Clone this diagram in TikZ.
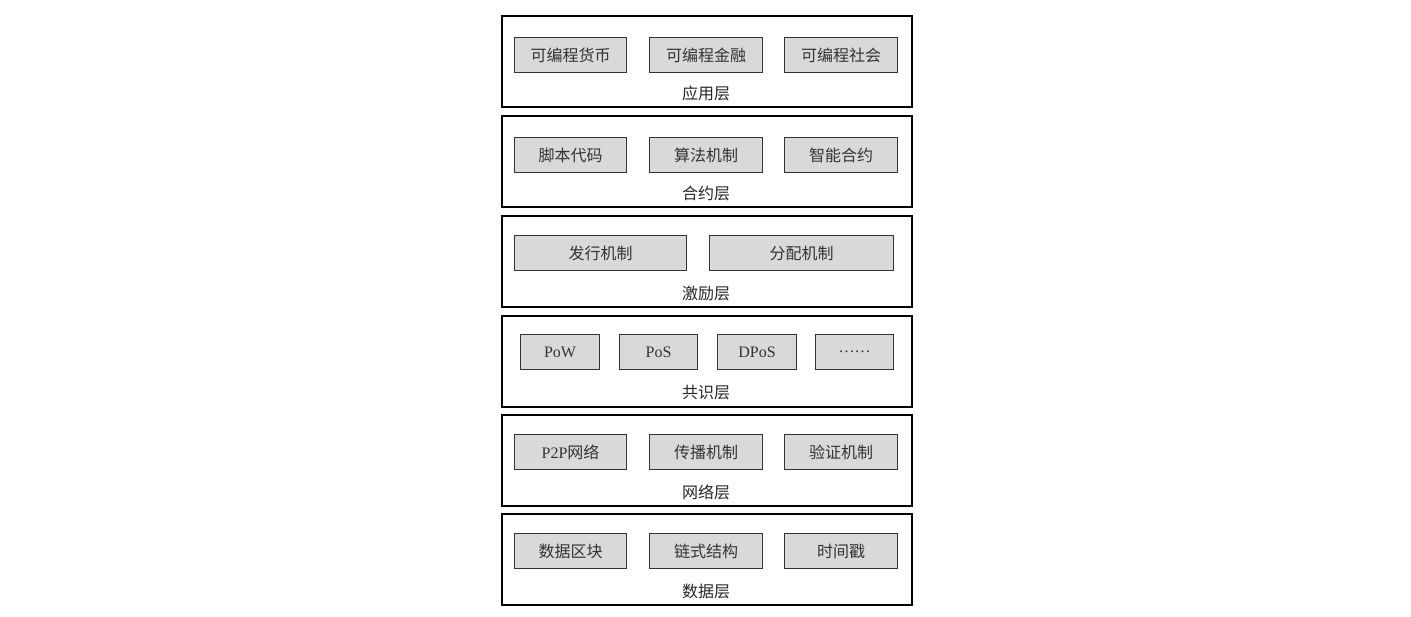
\documentclass[tikz,border=0pt]{standalone}
\usepackage{fontspec}
\setmainfont{Liberation Serif}
\newfontfamily\cjk{Noto Sans CJK SC}
\begin{document}
\begin{tikzpicture}[x=1pt,y=-1pt,
  layer/.style={draw=black,line width=1.6pt,fill=white},
  item/.style={draw=black!80,line width=1pt,fill=black!15,font=\fontsize{16}{19}\selectfont\cjk\color{black!80}},
  lab/.style={font=\fontsize{16}{19}\selectfont\cjk\color{black!85}}]
\useasboundingbox (0,0) rectangle (1411,617);
\def\L#1#2#3#4{\node[layer,minimum width=410pt,minimum height=91pt,anchor=north west] (#1) at (501,#2) {};
  \node[lab] (#1t) at (706,#2+78) {#3};}
\def\I#1#2#3#4#5{\node[item,minimum width=#3pt,minimum height=35pt,anchor=north west,inner sep=0pt] (#1) at (#2,#4) {};\node[item,draw=none,fill=none] at (#1) {#5};}
\L{a}{15}{应用层}{}
\I{a1}{514}{112}{37}{可编程货币}\I{a2}{649}{113}{37}{可编程金融}\I{a3}{784}{113}{37}{可编程社会}
\L{b}{115}{合约层}{}
\I{b1}{514}{112}{137}{脚本代码}\I{b2}{649}{113}{137}{算法机制}\I{b3}{784}{113}{137}{智能合约}
\L{c}{215}{激励层}{}
\I{c1}{514}{172}{235}{发行机制}\I{c2}{709}{184}{235}{分配机制}
\L{d}{315}{共识层}{}
\I{d1}{520}{79}{334}{\rmfamily PoW}\I{d2}{619}{78}{334}{\rmfamily PoS}\I{d3}{717}{79}{334}{\rmfamily DPoS}\I{d4}{815}{78}{334}{\rmfamily ……}
\L{e}{414}{网络层}{}
\I{e1}{514}{112}{434}{{\rmfamily P2P}网络}\I{e2}{649}{113}{434}{传播机制}\I{e3}{784}{113}{434}{验证机制}
\L{f}{513}{数据层}{}
\I{f1}{514}{112}{533}{数据区块}\I{f2}{649}{113}{533}{链式结构}\I{f3}{784}{113}{533}{时间戳}
\end{tikzpicture}
\end{document}
